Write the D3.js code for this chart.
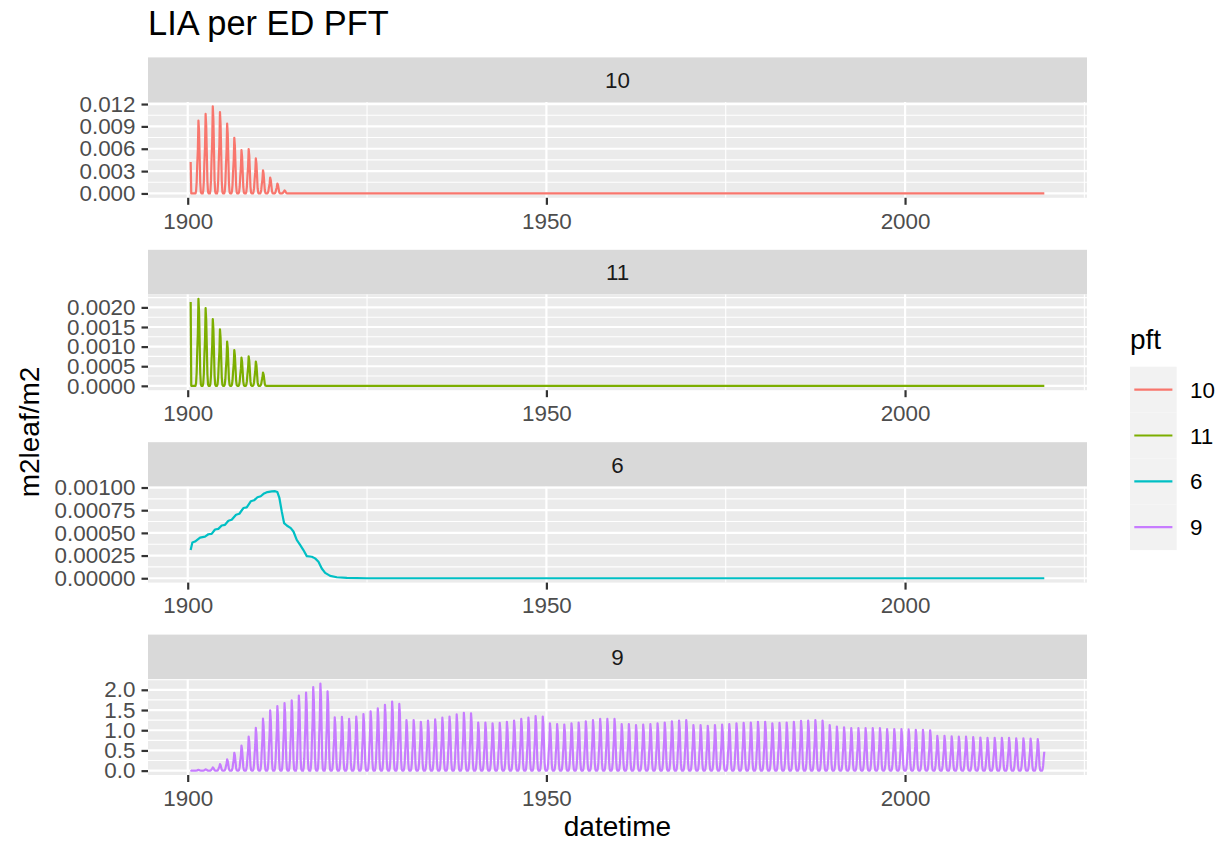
<!DOCTYPE html>
<html>
<head>
<meta charset="utf-8">
<script src="https://cdn.jsdelivr.net/npm/d3@7"></script>
<style>
  body { margin: 0; background: #ffffff; }
  text { font-family: "Liberation Sans", Arial, Helvetica, sans-serif; }
</style>
</head>
<body>
<svg id="chart" width="1225" height="843"></svg>
<script>
// ---- data -------------------------------------------------------------
const pfts = ["10", "11", "6", "9"];
const pftColors = ["#F8766D", "#7CAE00", "#00BFC4", "#C77CFF"];

// monthly leaf-area shape within a year (Jan..Dec), relative to that year's peak
const seasonShape = [0, 0, 0.03, 0.15, 0.4, 0.6, 1, 0.85, 0.5, 0.15, 0.02, 0];

// record runs monthly from June 1900 to June 2019
const startYear = 1900, startMonth = 5;
const endYear = 2019, endMonth = 5;

// initial record (June 1900) and annual peaks from 1901 on;
// years past the end of a list have no leaf area
const first10 = 0.00422;
const peaks10 = [0.00978, 0.01067, 0.01169, 0.01093, 0.00938, 0.00747, 0.00582,
                 0.00596, 0.00471, 0.00311, 0.00213, 0.00133, 0.00040];

const first11 = 0.00214;
const peaks11 = [0.00222, 0.00198, 0.00170, 0.00144, 0.00113, 0.00091, 0.00072,
                 0.00075, 0.00062, 0.00034];

const first9 = 0.015;
const peaks9 = [
  0.02, 0.033, 0.08, 0.16, 0.28, 0.44, 0.62, 0.84, 1.06,            // 1901-1909
  1.29, 1.49, 1.60, 1.67, 1.74, 1.86, 1.93, 2.07, 2.155, 1.96,      // 1910-1919
  1.32, 1.33, 1.28, 1.34, 1.40, 1.47, 1.54, 1.63, 1.71, 1.65,       // 1920-1929
  1.25, 1.25, 1.21, 1.24, 1.27, 1.31, 1.34, 1.39, 1.43, 1.42,       // 1930-1939
  1.19, 1.19, 1.17, 1.18, 1.21, 1.24, 1.28, 1.31, 1.35, 1.34,       // 1940-1949
  1.17, 1.15, 1.14, 1.17, 1.19, 1.22, 1.25, 1.28, 1.28, 1.28,       // 1950-1959
  1.15, 1.15, 1.13, 1.14, 1.15, 1.17, 1.19, 1.22, 1.24, 1.25,       // 1960-1969
  1.13, 1.13, 1.11, 1.13, 1.14, 1.15, 1.17, 1.18, 1.19, 1.21,       // 1970-1979
  1.21, 1.17, 1.18, 1.19, 1.21, 1.23, 1.24, 1.25, 1.24, 1.13,       // 1980-1989
  1.09, 1.07, 1.05, 1.05, 1.05, 1.05, 1.05, 1.03, 1.03, 1.03,       // 1990-1999
  1.02, 1.01, 1.01, 1.00, 0.86, 0.86, 0.85, 0.84, 0.84, 0.83,       // 2000-2009
  0.82, 0.81, 0.81, 0.81, 0.81, 0.80, 0.80, 0.79, 0.78, 0.78        // 2010-2019
];

// PFT 6 changes slowly: decimal-year samples and values
const years6 = [1900.41, 1900.65, 1901.02, 1901.72, 1902.41, 1902.88, 1903.34, 1903.81,
  1904.27, 1904.74, 1905.20, 1905.67, 1906.13, 1906.74, 1907.20, 1907.76, 1908.23,
  1908.79, 1909.25, 1909.72, 1910.18, 1910.65, 1911.11, 1911.72, 1912.18, 1912.50,
  1912.78, 1913.11, 1913.44, 1913.81, 1914.37, 1914.74, 1915.20, 1915.67, 1916.13,
  1916.60, 1917.30, 1917.76, 1918.23, 1918.69, 1919.16, 1919.86, 1920.79, 1922.18,
  1924.97, 2019.41];
const values6 = [0.000311, 0.000393, 0.000404, 0.000448, 0.000459, 0.000485, 0.000489,
  0.000537, 0.000544, 0.000581, 0.000589, 0.000633, 0.000644, 0.000700, 0.000711,
  0.000774, 0.000781, 0.000848, 0.000859, 0.000893, 0.000904, 0.000935, 0.000950,
  0.000958, 0.000960, 0.000950, 0.000885, 0.000737, 0.000607, 0.000581, 0.000552,
  0.000515, 0.000422, 0.000367, 0.000311, 0.000244, 0.000237, 0.000219, 0.000181,
  0.000107, 0.000059, 0.000026, 0.000011, 0.000004, 0, 0];

// axis breaks
const xBreaks = [1900, 1950, 2000];
const xMinorBreaks = [1875, 1925, 1975, 2025];
const yBreaks = {
  "10": [0, 0.003, 0.006, 0.009, 0.012],
  "11": [0, 0.0005, 0.001, 0.0015, 0.002],
  "6":  [0, 0.00025, 0.0005, 0.00075, 0.001],
  "9":  [0, 0.5, 1, 1.5, 2]
};
const yDigits = { "10": 3, "11": 4, "6": 5, "9": 1 };

// ---- series construction ---------------------------------------------
// first year: the initial record only, the rest of that year is bare
function seasonalSeries(first, peaks) {
  const pts = [];
  for (let y = startYear; y <= endYear; y++) {
    for (let m = 0; m < 12; m++) {
      if (y === startYear && m < startMonth) continue;
      if (y === endYear && m > endMonth) break;
      let v;
      if (y === startYear) v = (m === startMonth) ? first : 0;
      else {
        const p = peaks[y - startYear - 1];
        v = (p === undefined ? 0 : p) * seasonShape[m];
      }
      pts.push({ date: new Date(Date.UTC(y, m, 1)), value: v });
    }
  }
  return pts;
}
function decYear(yr) {
  const y = Math.floor(yr);
  const t0 = Date.UTC(y, 0, 1), t1 = Date.UTC(y + 1, 0, 1);
  return new Date(t0 + (yr - y) * (t1 - t0));
}
const series = {
  "10": seasonalSeries(first10, peaks10),
  "11": seasonalSeries(first11, peaks11),
  "6": years6.map((yr, i) => ({ date: decYear(yr), value: values6[i] })),
  "9": seasonalSeries(first9, peaks9)
};

// ---- layout -------------------------------------------------------------
const svg = d3.select("#chart");
const panelLeft = 148, panelRight = 1087;
const firstPanelTop = 102, panelStride = 192.4, panelH = 95.8, stripH = 44.6;

const tStart = new Date(Date.UTC(startYear, startMonth, 1));
const tEnd = new Date(Date.UTC(endYear, endMonth, 1));
const span = tEnd - tStart;
const x = d3.scaleUtc()
  .domain([new Date(+tStart - 0.05 * span), new Date(+tEnd + 0.05 * span)])
  .range([panelLeft, panelRight]);
const yearDate = yr => new Date(Date.UTC(yr, 0, 1));
const inX = yr => { const d = yearDate(yr); return d >= x.domain()[0] && d <= x.domain()[1]; };

// title
svg.append("text").attr("x", 148).attr("y", 35)
  .attr("font-size", 34.4).attr("fill", "#000").text("LIA per ED PFT");

pfts.forEach((pft, i) => {
  const top = firstPanelTop + i * panelStride;
  const bottom = top + panelH;
  const data = series[pft];
  const vmax = d3.max(data, d => d.value), vmin = d3.min(data, d => d.value);
  const r = vmax - vmin;
  const y = d3.scaleLinear().domain([vmin - 0.05 * r, vmax + 0.05 * r]).range([bottom, top]);

  const g = svg.append("g");

  // strip
  g.append("rect").attr("x", panelLeft).attr("y", top - stripH)
    .attr("width", panelRight - panelLeft).attr("height", stripH).attr("fill", "#D9D9D9");
  g.append("text").attr("x", (panelLeft + panelRight) / 2).attr("y", top - stripH / 2)
    .attr("dy", "0.36em").attr("text-anchor", "middle")
    .attr("font-size", 22.4).attr("fill", "#1A1A1A").text(pft);

  // panel background
  g.append("rect").attr("x", panelLeft).attr("y", top)
    .attr("width", panelRight - panelLeft).attr("height", panelH).attr("fill", "#EBEBEB");

  // minor grid
  const yb = yBreaks[pft];
  const step = yb[1] - yb[0];
  const yMinor = [yb[0] - step / 2].concat(yb.map(v => v + step / 2))
    .filter(v => v >= y.domain()[0] && v <= y.domain()[1]);
  g.selectAll(".ymin").data(yMinor).join("line")
    .attr("x1", panelLeft).attr("x2", panelRight)
    .attr("y1", d => y(d)).attr("y2", d => y(d))
    .attr("stroke", "#fff").attr("stroke-width", 1.1);
  g.selectAll(".xmin").data(xMinorBreaks.filter(inX)).join("line")
    .attr("x1", d => x(yearDate(d))).attr("x2", d => x(yearDate(d)))
    .attr("y1", top).attr("y2", bottom)
    .attr("stroke", "#fff").attr("stroke-width", 1.1);
  // major grid
  g.selectAll(".ymaj").data(yb.filter(v => v >= y.domain()[0] && v <= y.domain()[1])).join("line")
    .attr("x1", panelLeft).attr("x2", panelRight)
    .attr("y1", d => y(d)).attr("y2", d => y(d))
    .attr("stroke", "#fff").attr("stroke-width", 2.2);
  g.selectAll(".xmaj").data(xBreaks.filter(inX)).join("line")
    .attr("x1", d => x(yearDate(d))).attr("x2", d => x(yearDate(d)))
    .attr("y1", top).attr("y2", bottom)
    .attr("stroke", "#fff").attr("stroke-width", 2.2);

  // series line
  const line = d3.line().x(d => x(d.date)).y(d => y(d.value));
  g.append("path").datum(data).attr("d", line)
    .attr("fill", "none").attr("stroke", pftColors[i])
    .attr("stroke-width", 2.2).attr("stroke-linejoin", "round");

  // y axis
  const yAxis = d3.axisLeft(y).tickValues(yb)
    .tickFormat(d => d.toFixed(yDigits[pft])).tickSize(6.5).tickPadding(6);
  const ya = g.append("g").attr("transform", `translate(${panelLeft},0)`).call(yAxis);
  ya.select(".domain").remove();
  ya.selectAll("line").attr("stroke", "#333333").attr("stroke-width", 2.2);
  ya.selectAll("text").attr("font-size", 22.4).attr("fill", "#4D4D4D")
    .attr("font-family", "Liberation Sans, Arial, sans-serif");

  // x axis
  const xAxis = d3.axisBottom(x).tickValues(xBreaks.map(yearDate))
    .tickFormat(d3.utcFormat("%Y")).tickSize(7).tickPadding(8);
  const xa = g.append("g").attr("transform", `translate(0,${bottom})`).call(xAxis);
  xa.select(".domain").remove();
  xa.selectAll("line").attr("stroke", "#333333").attr("stroke-width", 2.2);
  xa.selectAll("text").attr("font-size", 22.4).attr("fill", "#4D4D4D")
    .attr("font-family", "Liberation Sans, Arial, sans-serif");
});

// axis titles
svg.append("text").attr("x", (panelLeft + panelRight) / 2).attr("y", 836)
  .attr("text-anchor", "middle").attr("font-size", 28).attr("fill", "#000").text("datetime");
svg.append("text").attr("transform", "translate(39,432) rotate(-90)")
  .attr("text-anchor", "middle").attr("font-size", 28).attr("fill", "#000").text("m2leaf/m2");

// legend
const legend = svg.append("g");
legend.append("text").attr("x", 1130).attr("y", 349)
  .attr("font-size", 28).attr("fill", "#000").text("pft");
const keyTop = 366.7, keyH = 45.85, keyX = 1130, keyW = 46.7;
pfts.forEach((pft, i) => {
  const ky = keyTop + i * keyH;
  legend.append("rect").attr("x", keyX).attr("y", ky).attr("width", keyW).attr("height", keyH)
    .attr("fill", "#F2F2F2");
  legend.append("line").attr("x1", keyX + 4.3).attr("x2", keyX + keyW - 4.3)
    .attr("y1", ky + keyH / 2).attr("y2", ky + keyH / 2)
    .attr("stroke", pftColors[i]).attr("stroke-width", 2.2);
  legend.append("text").attr("x", 1190).attr("y", ky + keyH / 2).attr("dy", "0.36em")
    .attr("font-size", 22.4).attr("fill", "#000").text(pft);
});
</script>
</body>
</html>
